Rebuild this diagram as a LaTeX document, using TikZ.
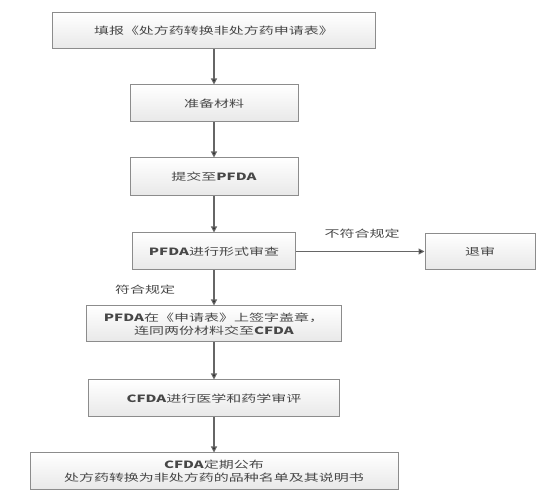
\documentclass[tikz,border=0pt]{standalone}
\usepackage{fontspec}
\setmainfont{Noto Sans CJK SC}
\usetikzlibrary{arrows.meta}
\newcommand{\sx}[1]{\scalebox{1.5}[1]{#1}}
\begin{document}
\begin{tikzpicture}[x=1pt,y=-1pt,
  box/.style={draw=black!45, line width=1pt, top color=white, bottom color=black!9,
    rectangle, inner sep=0pt, minimum height=37pt, align=center,
    font=\fontsize{10}{14}\selectfont, text=black!72},
  conn/.style={draw=black!60, line width=1.1pt, -{Triangle[length=6pt,width=6pt,fill=black!85]}},
  lbl/.style={font=\fontsize{10}{14}\selectfont, text=black!72, inner sep=0pt}]
\useasboundingbox (0,0) rectangle (558,502);
\node[box, minimum width=323pt, minimum height=36pt] (b1) at (214,31) {\sx{填报《处方药转换非处方药申请表》}};
\node[box, minimum width=168pt] (b2) at (214,103.5) {\sx{准备材料}};
\node[box, minimum width=168pt, minimum height=38pt] (b3) at (214,177) {\sx{提交至\textbf{PFDA}}};
\node[box, minimum width=163pt] (b4) at (214,251.5) {\sx{\textbf{PFDA}进行形式审查}};
\node[box, minimum width=110pt, minimum height=36pt] (b5) at (480,251.5) {\sx{退审}};
\node[box, minimum width=255pt, minimum height=36pt] (b6) at (214,324) {\sx{\textbf{PFDA}在《申请表》上签字盖章，}\\[-1pt]\sx{连同两份材料交至\textbf{CFDA}}};
\node[box, minimum width=251pt] (b7) at (214,398.5) {\sx{\textbf{CFDA}进行医学和药学审评}};
\node[box, minimum width=368pt] (b8) at (214,471.5) {\sx{\textbf{CFDA}定期公布}\\[-1pt]\sx{处方药转换为非处方药的品种名单及其说明书}};
\node[lbl] (l1) at (362,234) {\sx{不符合规定}};
\node[lbl] (l2) at (145,290) {\sx{符合规定}};
\draw[conn] (b1) -- (b2);
\draw[conn] (b2) -- (b3);
\draw[conn] (b3) -- (b4);
\draw[conn] (b4) -- (b5);
\draw[conn] (b4) -- (b6);
\draw[conn] (b6) -- (b7);
\draw[conn] (b7) -- (b8);
\end{tikzpicture}
\end{document}
